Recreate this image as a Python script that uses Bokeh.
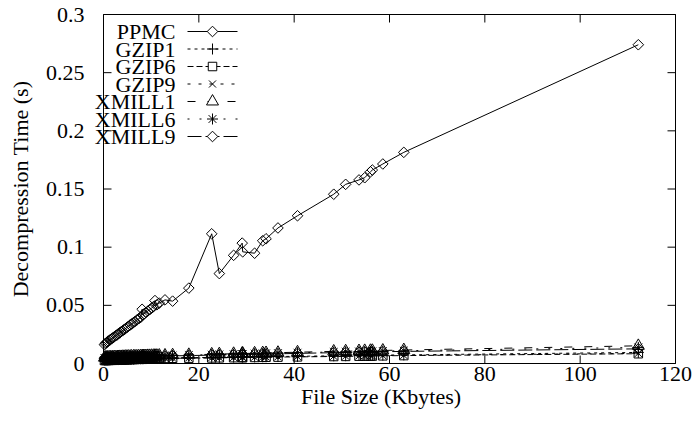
import numpy as np
from bokeh.plotting import figure
from bokeh.models import Range1d, FixedTicker, Label, CustomJSTickFormatter
from bokeh.embed import file_html
from bokeh.resources import INLINE

# File sizes (Kbytes)
file_size = [0.2, 0.4, 0.6, 0.8, 1.0, 1.3, 1.5, 1.8, 2.0, 2.3, 2.6, 2.9, 3.1, 3.4, 3.7,
             4.0, 4.3, 4.6, 4.9, 5.2, 5.6, 5.9, 6.3, 6.6, 7.0, 7.4, 7.8, 8.1, 8.3, 8.5,
             8.9, 9.3, 9.7, 10.1, 10.5, 10.8, 11.2, 11.7, 12.9, 14.5, 17.9, 22.7, 24.3, 27.3,
             29.1, 29.2, 31.7, 33.4, 34.1, 36.6, 40.7, 48.3, 50.8, 53.6, 54.8, 56.0, 56.4,
             58.6, 63.0, 112.2]

# Decompression times (s)
ppmc = [0.0162, 0.0172, 0.0179, 0.0185, 0.0193, 0.0200, 0.0208, 0.0215, 0.0222, 0.0231,
        0.0240, 0.0247, 0.0256, 0.0263, 0.0274, 0.0281, 0.0291, 0.0300, 0.0309, 0.0319,
        0.0331, 0.0340, 0.0352, 0.0361, 0.0374, 0.0385, 0.0396, 0.0466, 0.0419, 0.0426,
        0.0439, 0.0451, 0.0463, 0.0477, 0.0489, 0.0541, 0.0505, 0.0519, 0.0547, 0.0536,
        0.0648, 0.1115, 0.0773, 0.0930, 0.1035, 0.0960, 0.0948, 0.1055, 0.1072, 0.1165,
        0.1270, 0.1455, 0.1540, 0.1578, 0.1597, 0.1648, 0.1663, 0.1715, 0.1815, 0.2740]

gzip1 = [0.0028, 0.0029, 0.0030, 0.0029, 0.0031, 0.0030, 0.0032, 0.0031, 0.0032, 0.0033,
         0.0032, 0.0034, 0.0033, 0.0035, 0.0034, 0.0035, 0.0036, 0.0035, 0.0037, 0.0036,
         0.0037, 0.0038, 0.0038, 0.0039, 0.0039, 0.0040, 0.0040, 0.0041, 0.0041, 0.0042,
         0.0042, 0.0043, 0.0043, 0.0044, 0.0044, 0.0045, 0.0045, 0.0046, 0.0047, 0.0048,
         0.0050, 0.0052, 0.0053, 0.0055, 0.0056, 0.0056, 0.0057, 0.0058, 0.0059, 0.0060,
         0.0062, 0.0066, 0.0067, 0.0069, 0.0069, 0.0070, 0.0071, 0.0072, 0.0074, 0.0095]

gzip6 = [0.0024, 0.0025, 0.0025, 0.0026, 0.0026, 0.0027, 0.0027, 0.0028, 0.0028, 0.0029,
         0.0029, 0.0030, 0.0030, 0.0031, 0.0031, 0.0032, 0.0032, 0.0033, 0.0033, 0.0034,
         0.0034, 0.0035, 0.0035, 0.0036, 0.0036, 0.0037, 0.0037, 0.0038, 0.0038, 0.0039,
         0.0039, 0.0040, 0.0040, 0.0041, 0.0041, 0.0042, 0.0042, 0.0043, 0.0044, 0.0045,
         0.0046, 0.0048, 0.0049, 0.0050, 0.0051, 0.0051, 0.0052, 0.0053, 0.0054, 0.0055,
         0.0057, 0.0060, 0.0061, 0.0063, 0.0063, 0.0064, 0.0064, 0.0066, 0.0068, 0.0084]

gzip9 = [0.0026, 0.0026, 0.0027, 0.0027, 0.0028, 0.0028, 0.0029, 0.0029, 0.0030, 0.0030,
         0.0031, 0.0031, 0.0032, 0.0032, 0.0033, 0.0033, 0.0034, 0.0034, 0.0035, 0.0035,
         0.0036, 0.0036, 0.0037, 0.0037, 0.0038, 0.0038, 0.0039, 0.0039, 0.0040, 0.0040,
         0.0041, 0.0041, 0.0042, 0.0042, 0.0043, 0.0043, 0.0044, 0.0044, 0.0045, 0.0046,
         0.0048, 0.0050, 0.0051, 0.0052, 0.0053, 0.0053, 0.0054, 0.0055, 0.0056, 0.0057,
         0.0059, 0.0062, 0.0063, 0.0065, 0.0065, 0.0066, 0.0066, 0.0068, 0.0070, 0.0087]

xmill1 = [0.0050, 0.0051, 0.0051, 0.0052, 0.0052, 0.0053, 0.0053, 0.0054, 0.0054, 0.0055,
          0.0055, 0.0056, 0.0056, 0.0057, 0.0057, 0.0058, 0.0058, 0.0059, 0.0059, 0.0060,
          0.0060, 0.0061, 0.0061, 0.0062, 0.0062, 0.0063, 0.0063, 0.0064, 0.0064, 0.0065,
          0.0065, 0.0066, 0.0066, 0.0067, 0.0067, 0.0068, 0.0068, 0.0069, 0.0070, 0.0072,
          0.0075, 0.0079, 0.0081, 0.0084, 0.0086, 0.0086, 0.0088, 0.0090, 0.0091, 0.0093,
          0.0097, 0.0104, 0.0106, 0.0108, 0.0109, 0.0110, 0.0110, 0.0112, 0.0116, 0.0152]

xmill6 = [0.0047, 0.0048, 0.0048, 0.0049, 0.0049, 0.0050, 0.0050, 0.0051, 0.0051, 0.0052,
          0.0052, 0.0053, 0.0053, 0.0054, 0.0054, 0.0055, 0.0055, 0.0056, 0.0056, 0.0057,
          0.0057, 0.0058, 0.0058, 0.0059, 0.0059, 0.0060, 0.0060, 0.0061, 0.0061, 0.0062,
          0.0062, 0.0063, 0.0063, 0.0064, 0.0064, 0.0065, 0.0065, 0.0066, 0.0067, 0.0069,
          0.0072, 0.0076, 0.0078, 0.0080, 0.0082, 0.0082, 0.0084, 0.0086, 0.0087, 0.0089,
          0.0093, 0.0099, 0.0101, 0.0103, 0.0104, 0.0105, 0.0105, 0.0107, 0.0110, 0.0138]

xmill9 = [0.0044, 0.0045, 0.0045, 0.0046, 0.0046, 0.0047, 0.0047, 0.0048, 0.0048, 0.0049,
          0.0049, 0.0050, 0.0050, 0.0051, 0.0051, 0.0052, 0.0052, 0.0053, 0.0053, 0.0054,
          0.0054, 0.0055, 0.0055, 0.0056, 0.0056, 0.0057, 0.0057, 0.0058, 0.0058, 0.0059,
          0.0059, 0.0060, 0.0060, 0.0061, 0.0061, 0.0062, 0.0062, 0.0063, 0.0064, 0.0066,
          0.0068, 0.0072, 0.0073, 0.0075, 0.0077, 0.0077, 0.0079, 0.0080, 0.0081, 0.0083,
          0.0087, 0.0093, 0.0095, 0.0097, 0.0098, 0.0099, 0.0099, 0.0101, 0.0104, 0.0126]

series_names = ["PPMC", "GZIP1", "GZIP6", "GZIP9", "XMILL1", "XMILL6", "XMILL9"]
series_values = [ppmc, gzip1, gzip6, gzip9, xmill1, xmill6, xmill9]

x_ticks = [0, 20, 40, 60, 80, 100, 120]
y_ticks = [0, 0.05, 0.1, 0.15, 0.2, 0.25, 0.3]
X_MAX, Y_MAX = 120, 0.3

# marker, marker size, angle, line dash per series
styles = [
    ("square", 7.5, np.pi / 4, "solid"),
    ("cross", 11, 0.0, "3 4"),
    ("square", 8.5, 0.0, "6 3"),
    ("x", 10, 0.0, "3 8"),
    ("triangle", 12, 0.0, "8 12"),
    ("asterisk", 11, 0.0, "2 10"),
    ("square", 7.5, np.pi / 4, "14 4"),
]

FONT = "Liberation Serif"
FS = "22px"
W, H = 696, 423
# plot box edges (px) and the slightly larger drawing frame around it,
# so the key's labels can spill past the left edge of the box
BL, BR, BT, BB = 103, 675, 14, 363
FL, FR, FT, FB = 84, 677, 12, 365
TICK = 8

kx = (BR - BL) / X_MAX
ky = (BB - BT) / Y_MAX

p = figure(width=W, height=H, output_backend="svg", toolbar_location=None,
           x_range=Range1d(-(BL - FL) / kx, X_MAX + (FR - BR) / kx),
           y_range=Range1d(-(FB - BB) / ky, Y_MAX + (BT - FT) / ky),
           min_border_left=FL, min_border_right=W - FR,
           min_border_top=FT, min_border_bottom=H - FB)
p.grid.visible = False
p.outline_line_color = None
p.background_fill_color = "white"
p.border_fill_color = "white"

fmt = CustomJSTickFormatter(code="return String(Number(tick.toFixed(2)));")

for ax, ticks in ((p.xaxis[0], x_ticks), (p.yaxis[0], y_ticks)):
    ax.ticker = FixedTicker(ticks=ticks)
    ax.formatter = fmt
    ax.major_tick_in = 0
    ax.major_tick_out = 0
    ax.major_tick_line_color = None
    ax.minor_tick_line_color = None
    ax.axis_line_color = None
    ax.major_label_text_font = FONT
    ax.major_label_text_font_size = FS
    ax.major_label_text_color = "black"
    ax.axis_label_text_font = FONT
    ax.axis_label_text_font_size = FS
    ax.axis_label_text_font_style = "normal"
    ax.axis_label_text_color = "black"

p.xaxis[0].axis_label = "File Size (Kbytes)"
p.xaxis[0].major_label_standoff = 1
p.xaxis[0].axis_label_standoff = 0
p.yaxis[0].axis_label = "Decompression Time (s)"
p.yaxis[0].major_label_standoff = 0
p.yaxis[0].axis_label_standoff = 10

# plot box
p.segment(x0=[0, X_MAX, 0, 0], y0=[0, 0, 0, Y_MAX], x1=[0, X_MAX, X_MAX, X_MAX],
          y1=[Y_MAX, Y_MAX, 0, Y_MAX], line_color="black", line_width=1)

# inward tick marks on all four sides
tdx, tdy = TICK / kx, TICK / ky
nx, ny = len(x_ticks), len(y_ticks)
p.segment(x0=x_ticks, y0=[0] * nx, x1=x_ticks, y1=[tdy] * nx, line_color="black")
p.segment(x0=x_ticks, y0=[Y_MAX] * nx, x1=x_ticks, y1=[Y_MAX - tdy] * nx, line_color="black")
p.segment(x0=[0] * ny, y0=y_ticks, x1=[tdx] * ny, y1=y_ticks, line_color="black")
p.segment(x0=[X_MAX] * ny, y0=y_ticks, x1=[X_MAX - tdx] * ny, y1=y_ticks, line_color="black")

for vals, (marker, size, angle, dash) in zip(series_values, styles):
    p.line(file_size, vals, line_color="black", line_width=1, line_dash=dash)
    p.scatter(file_size, vals, marker=marker, size=size, angle=angle,
              line_color="black", line_width=1, fill_alpha=0)


# key in the upper-left corner: label, then a line sample with its marker
def sx(px):
    return (px - BL) / kx


def sy(py):
    return (BB - py) / ky


row_y0, row_step = 31, 17.5
for i, (name, (marker, size, angle, dash)) in enumerate(zip(series_names, styles)):
    py = row_y0 + i * row_step
    p.line([sx(187), sx(237)], [sy(py), sy(py)], line_color="black", line_width=1,
           line_dash=dash)
    p.scatter([sx(212)], [sy(py)], marker=marker, size=size, angle=angle,
              line_color="black", line_width=1, fill_color="white")
    # label positions are measured from the frame's lower-left corner
    p.add_layout(Label(x=175 - FL, y=FB - py, x_units="screen", y_units="screen",
                       text=name, text_align="right", text_baseline="middle",
                       text_font=FONT, text_font_size=FS, text_color="black",
                       level="overlay"))

open("out.html", "w").write(file_html(p, INLINE))
